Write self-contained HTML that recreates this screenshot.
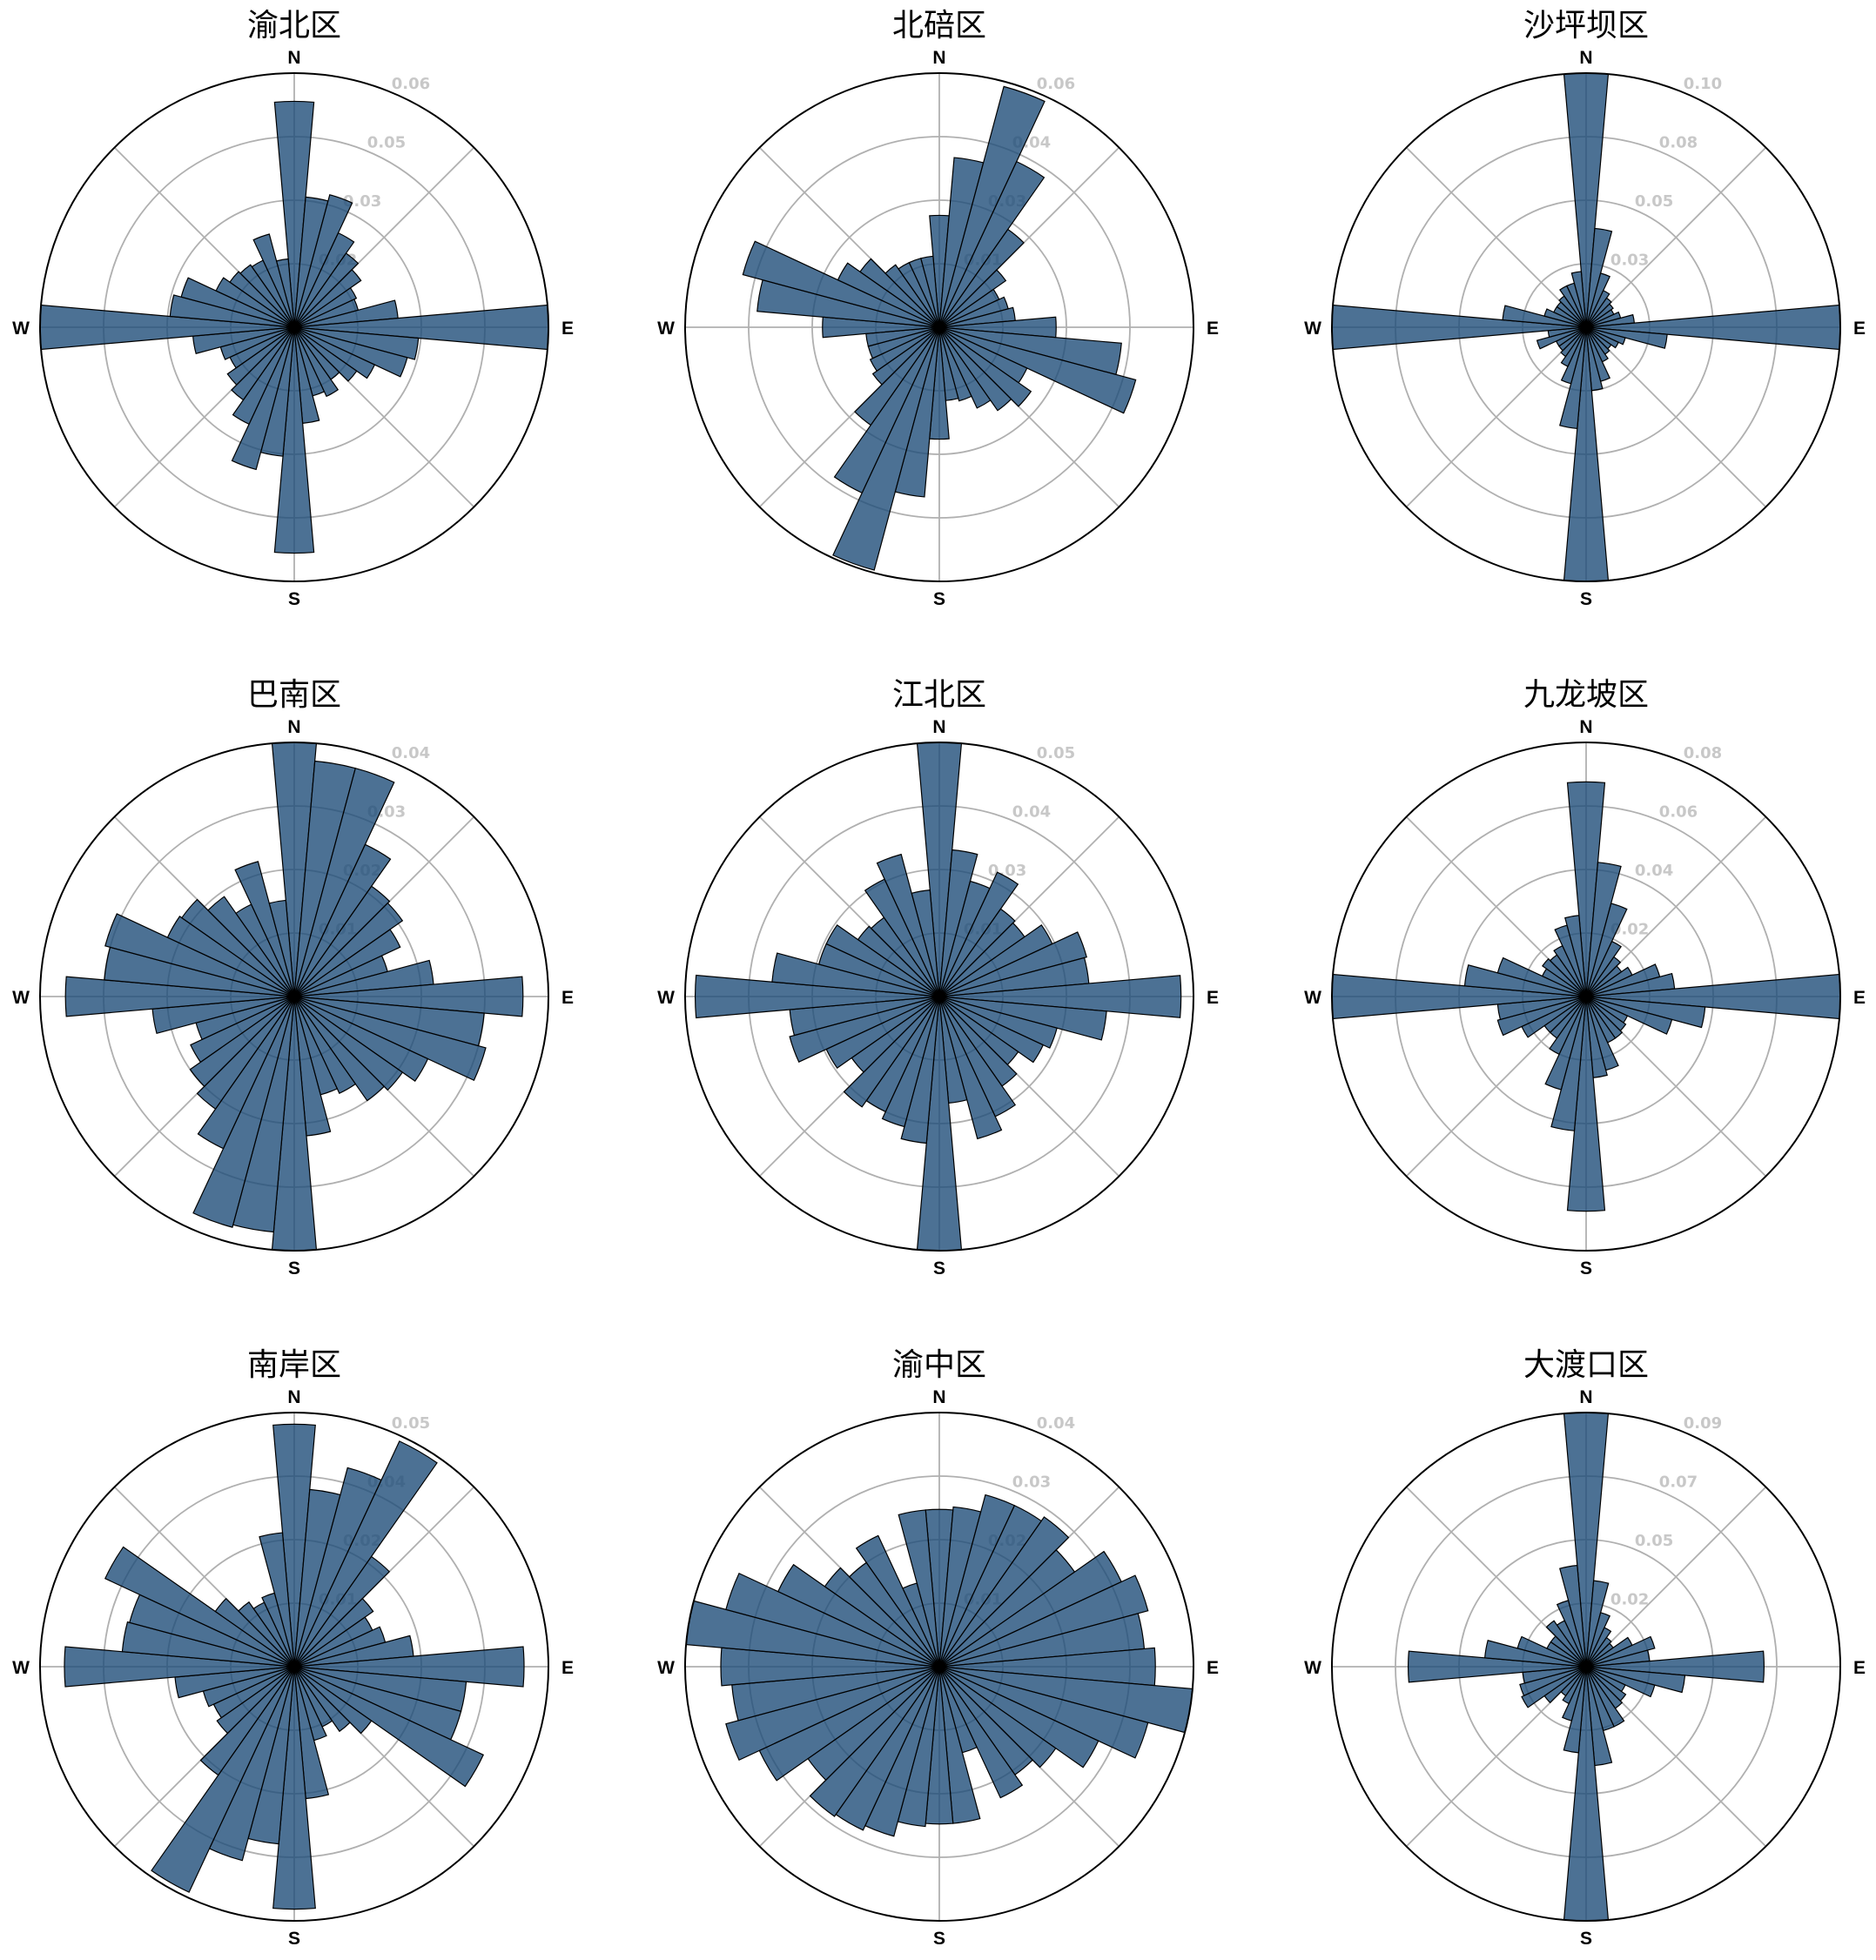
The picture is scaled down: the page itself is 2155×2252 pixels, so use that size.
<!DOCTYPE html>
<html><head><meta charset="utf-8">
<style>
html,body{margin:0;padding:0;background:#fff;}
svg{display:block;}
.title{font-family:"Liberation Sans","Noto Sans CJK SC",sans-serif;font-size:36px;fill:#000;}
.card{font-family:"Liberation Sans","DejaVu Sans",sans-serif;font-size:21px;font-weight:bold;fill:#000;}
.rlab{font-family:"DejaVu Sans","Liberation Sans",sans-serif;font-size:18px;font-weight:bold;fill:#c8c8c8;}
</style></head>
<body>
<svg id="chart" width="2155" height="2252" viewBox="0 0 2155 2252" xmlns="http://www.w3.org/2000/svg"></svg>
<script>
const titles = ["渝北区","北碚区","沙坪坝区","巴南区","江北区","九龙坡区","南岸区","渝中区","大渡口区"];
const rMax = [0.063,0.057,0.104,0.040,0.053,0.083,0.048,0.042,0.093];
const tickLabels = [
 ["0.02","0.03","0.05","0.06"],["0.01","0.03","0.04","0.06"],["0.03","0.05","0.08","0.10"],
 ["0.01","0.02","0.03","0.04"],["0.01","0.03","0.04","0.05"],["0.02","0.04","0.06","0.08"],
 ["0.01","0.02","0.04","0.05"],["0.01","0.02","0.03","0.04"],["0.02","0.05","0.07","0.09"]];
const directions = [0,10,20,30,40,50,60,70,80,90,100,110,120,130,140,150,160,170,180,190,200,210,220,230,240,250,260,270,280,290,300,310,320,330,340,350];
const freqYubei = [.056,.0324,.034,.0258,.0224,.0202,.017,.0164,.0258,.063,.0309,.029,.022,.0189,.0158,.0189,.0176,.0239,.056,.0321,.0365,.0265,.022,.0202,.0176,.0189,.0252,.063,.0309,.029,.0214,.0195,.0189,.0183,.0239,.017];
const freqBeibei = [.0251,.0382,.0559,.041,.0268,.0182,.0148,.016,.0171,.0262,.041,.0456,.0217,.0251,.0228,.02,.0171,.0165,.0251,.0382,.0564,.041,.0268,.0182,.0171,.0165,.0165,.0262,.041,.0456,.0251,.0217,.0171,.016,.016,.016];
const freqShapingba = [.104,.0406,.0229,.0166,.0146,.0135,.0125,.0146,.0198,.104,.0333,.0166,.0146,.0125,.0135,.0156,.0229,.026,.104,.0416,.0239,.0177,.0146,.0135,.0135,.0208,.0156,.104,.0343,.0177,.0146,.0146,.0156,.0187,.0187,.0229];
const freqBanan = [.04,.0372,.0372,.0264,.0212,.0208,.0184,.0152,.022,.036,.03,.0312,.0232,.0208,.02,.0168,.016,.022,.04,.0372,.0376,.0264,.0216,.02,.018,.016,.0224,.036,.03,.0308,.022,.0216,.0192,.016,.022,.0152];
const freqJiangbei = [.053,.0307,.0249,.0286,.0223,.0217,.026,.0318,.0313,.0504,.035,.0254,.0239,.0201,.0228,.0276,.0307,.0223,.053,.0307,.0281,.0265,.0281,.0223,.026,.0323,.0313,.0509,.035,.026,.026,.0207,.0201,.027,.0307,.0223];
const freqJiulongpo = [.0701,.044,.0315,.0199,.0158,.0141,.0166,.0249,.029,.083,.039,.029,.0149,.0158,.0166,.0166,.0249,.0266,.0701,.044,.0315,.0208,.0166,.0166,.0232,.0299,.029,.083,.0398,.0299,.0158,.0174,.0166,.0183,.0241,.0266];
const freqNanan = [.0458,.0336,.0389,.047,.0254,.0182,.0163,.0178,.0226,.0434,.0326,.0326,.0394,.0178,.0149,.0125,.0144,.025,.0458,.0336,.0379,.047,.025,.0178,.0168,.0178,.0226,.0434,.0326,.0322,.0394,.0182,.0149,.0134,.0144,.0254];
const freqYuzhong = [.026,.0265,.0294,.0294,.0302,.0273,.0332,.0357,.034,.0357,.042,.0357,.029,.0235,.0218,.0239,.0147,.026,.026,.0265,.029,.0298,.0302,.0265,.0328,.0365,.0344,.0361,.042,.0365,.0294,.0231,.021,.0239,.0143,.026];
const freqDadukou = [.093,.0316,.0205,.0158,.013,.0121,.0186,.026,.0233,.0651,.0363,.026,.0158,.0177,.0186,.0242,.0242,.0363,.093,.0316,.0205,.0149,.013,.0186,.026,.0251,.0233,.0651,.0372,.026,.0158,.0158,.0205,.0186,.0251,.0372];
const series = [freqYubei,freqBeibei,freqShapingba,freqBanan,freqJiangbei,freqJiulongpo,freqNanan,freqYuzhong,freqDadukou];

const NS='http://www.w3.org/2000/svg';
const svg=document.getElementById('chart');
const colX=[338,1079,1822], rowY=[376,1145,1915], R=292;
function mk(tag,attrs,parent){const e=document.createElementNS(NS,tag);for(const k in attrs)e.setAttribute(k,attrs[k]);parent.appendChild(e);return e;}
function pt(cx,cy,r,deg){const a=deg*Math.PI/180;return [cx+r*Math.sin(a),cy-r*Math.cos(a)];}

for(let i=0;i<9;i++){
  const cx=colX[i%3], cy=rowY[Math.floor(i/3)];
  const rScale=v=>v/rMax[i]*R;
  const g=mk('g',{},svg);
  
  
  const t=mk('text',{x:cx,y:cy-335,'text-anchor':'middle',class:'title'},g);
  t.textContent=titles[i];
  
  
  for(let k=1;k<=3;k++){
    const c=mk('circle',{cx:cx,cy:cy,r:R*k/4,fill:'none',stroke:'#b0b0b0','stroke-width':1.8},g);
    
    
  }
  for(let a=0;a<360;a+=45){
    const p=pt(cx,cy,R,a);
    const l=mk('line',{x1:cx,y1:cy,x2:p[0],y2:p[1],stroke:'#b0b0b0','stroke-width':1.8},g);
    
    
  }
  for(let k=1;k<=4;k++){
    const p=pt(cx,cy,R*k/4,22.5);
    const tl=mk('text',{x:p[0],y:p[1]-4,class:'rlab'},g);
    tl.textContent=tickLabels[i][k-1];
    
    
  }
  const vals=series[i];
  for(let j=0;j<directions.length;j++){
    const r=rScale(vals[j]), d=directions[j];
    const p1=pt(cx,cy,r,d-5), p2=pt(cx,cy,r,d+5);
    const b=mk('path',{d:`M${cx},${cy}L${p1[0].toFixed(2)},${p1[1].toFixed(2)}A${r.toFixed(2)},${r.toFixed(2)} 0 0 1 ${p2[0].toFixed(2)},${p2[1].toFixed(2)}Z`,fill:'#1f4e79','fill-opacity':0.8,stroke:'#000','stroke-width':1.2,'stroke-linejoin':'miter'},g);
    
    
  }
  const oc=mk('circle',{cx:cx,cy:cy,r:R,fill:'none',stroke:'#000','stroke-width':2},g);
  
  
  const cards=[['N',0,-311],['E',314,0],['S',0,311],['W',-314,0]];
  for(const c of cards){
    const ct=mk('text',{x:cx+c[1],y:cy+c[2]+8,'text-anchor':'middle',class:'card'},g);
    ct.textContent=c[0];
    
    
  }
}
</script>
</body></html>
